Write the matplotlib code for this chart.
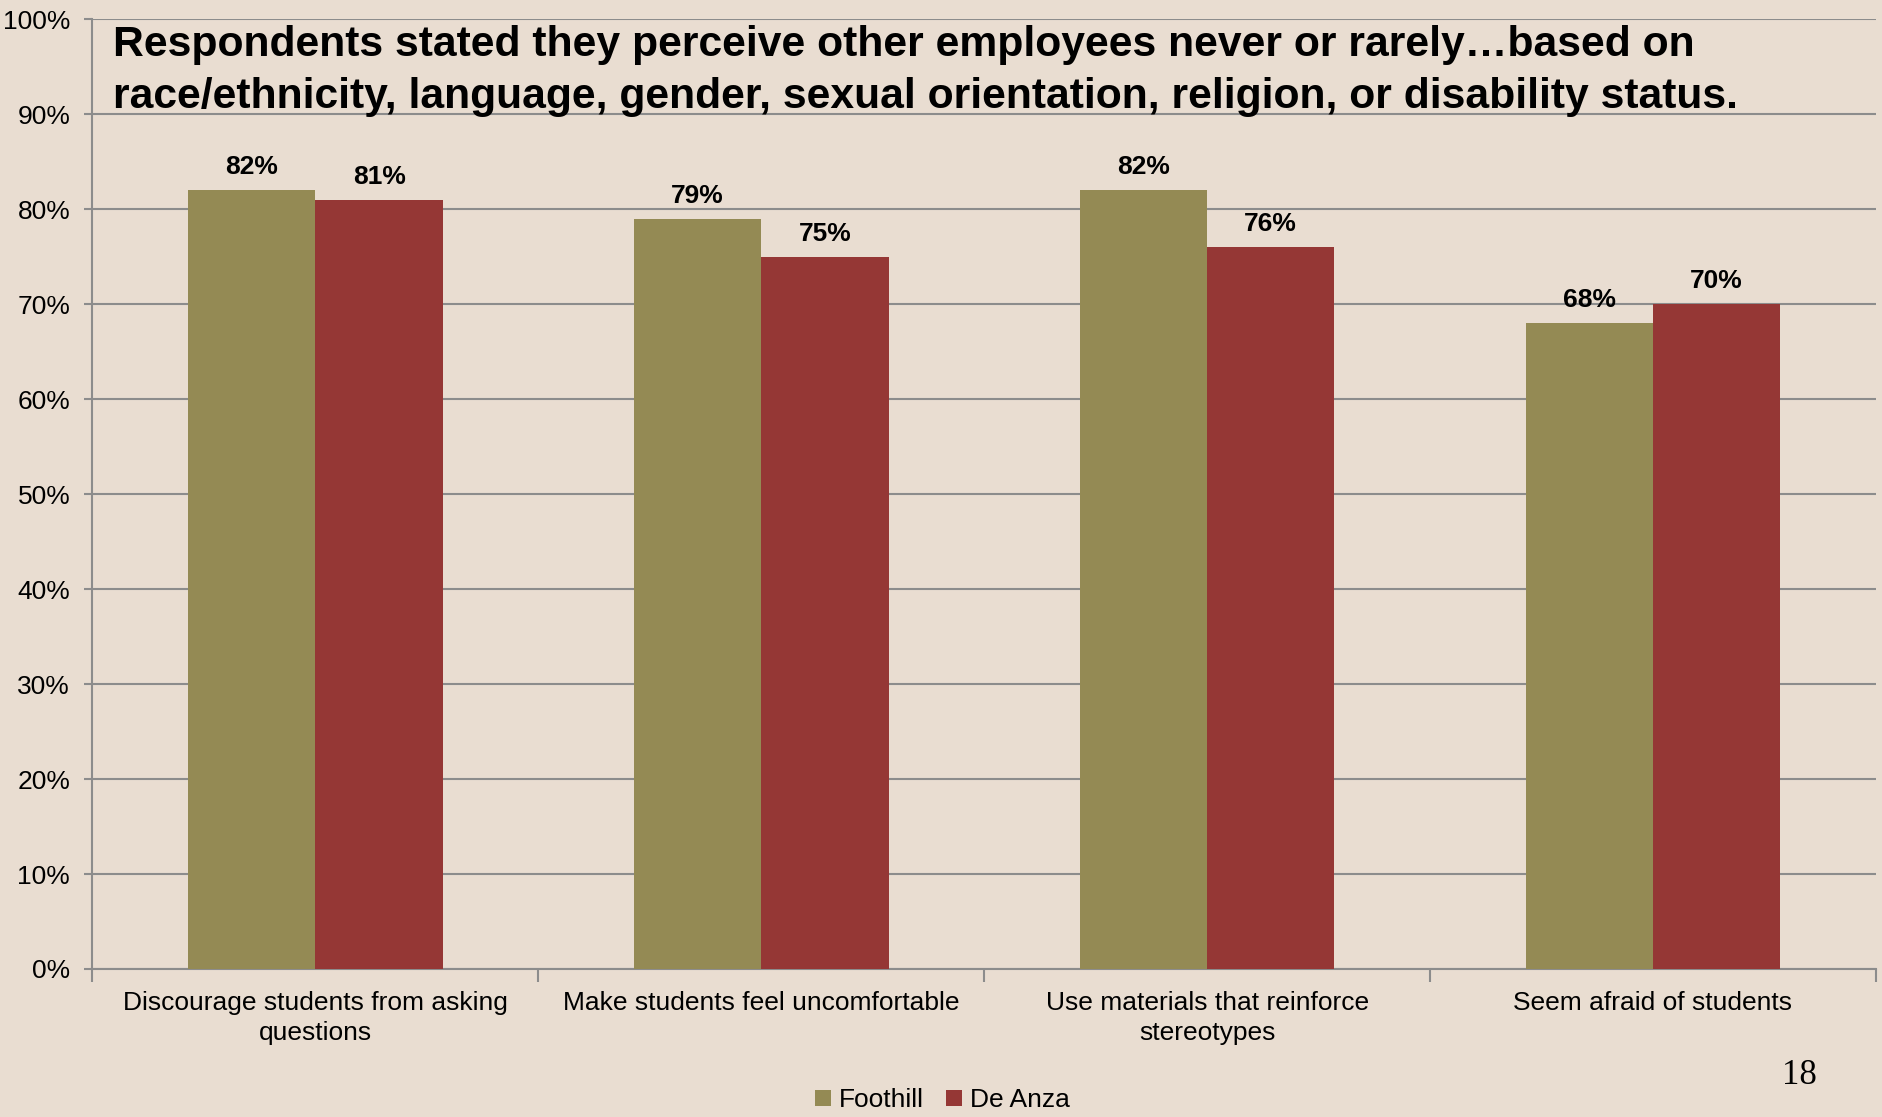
import matplotlib
matplotlib.use("Agg")
import matplotlib.pyplot as plt
import numpy as np
from matplotlib.ticker import FixedLocator, NullFormatter, FuncFormatter, MultipleLocator

categories = ["Discourage students from asking\nquestions",
              "Make students feel uncomfortable",
              "Use materials that reinforce\nstereotypes",
              "Seem afraid of students"]
series_names = ["Foothill", "De Anza"]
foothill = [82, 79, 82, 68]
de_anza = [81, 75, 76, 70]
title = ("Respondents stated they perceive other employees never or rarely\u2026based on\n"
         "race/ethnicity, language, gender, sexual orientation, religion, or disability status.")
page_number = "18"

bg = "#E9DDD1"
c_foot = "#948A54"
c_dea = "#953735"
grid_c = "#8C8C8C"

plt.rcParams['font.family'] = ['Liberation Sans', 'DejaVu Sans']

fig = plt.figure(figsize=(18.83, 11.17), dpi=100, facecolor=bg)
ax = fig.add_axes([0.0491, 0.1325, 0.9471, 0.8503])
ax.set_facecolor(bg)

x = np.arange(len(categories))
w = 1 / 3.5
b1 = ax.bar(x - w / 2, foothill, w, color=c_foot, label=series_names[0], zorder=3)
b2 = ax.bar(x + w / 2, de_anza, w, color=c_dea, label=series_names[1], zorder=3)

for bars, vals in ((b1, foothill), (b2, de_anza)):
    for r, v in zip(bars, vals):
        ax.annotate(f"{v}%", (r.get_x() + r.get_width() / 2, v), xytext=(0, 8),
                    textcoords="offset points", ha="center", va="bottom",
                    fontsize=19, fontweight="bold", zorder=4)

ax.set_xlim(-0.5, len(categories) - 0.5)
ax.set_ylim(0, 100)
ax.yaxis.set_major_locator(MultipleLocator(10))
ax.yaxis.set_major_formatter(FuncFormatter(lambda v, p: f"{int(v)}%"))
ax.grid(axis="y", color=grid_c, linewidth=1.5, zorder=0)
ax.set_axisbelow(True)

ax.xaxis.set_major_locator(FixedLocator(np.arange(-0.5, len(categories), 1.0)))
ax.xaxis.set_major_formatter(NullFormatter())
ax.xaxis.set_minor_locator(FixedLocator(x))
ax.set_xticklabels(categories, minor=True)
ax.tick_params(axis="x", which="minor", length=0, pad=16, labelsize=19)
ax.tick_params(axis="x", which="major", length=9, width=1.5, color=grid_c, direction="out")
ax.tick_params(axis="y", length=6, width=1.5, color=grid_c, labelsize=19, pad=10)
for lbl in ax.get_xticklabels(minor=True):
    lbl.set_linespacing(1.28)

for s in ("top", "right"):
    ax.spines[s].set_visible(False)
for s in ("left", "bottom"):
    ax.spines[s].set_color(grid_c)
    ax.spines[s].set_linewidth(1.5)

ax.text(0.0117, 0.994, title, transform=ax.transAxes, ha="left", va="top",
        fontsize=30.7, fontweight="bold", linespacing=1.38, zorder=5)

fig.legend(loc="center", bbox_to_anchor=(0.5005, 0.015), ncol=2, frameon=False,
           fontsize=19, handlelength=0.6, handleheight=0.6, handletextpad=0.3,
           columnspacing=0.85)

fig.text(0.9555, 1 - 1075 / 1117, page_number, family=["Liberation Serif", "DejaVu Serif"],
         fontsize=25, ha="center", va="center")

fig.savefig("out.png", dpi=100, facecolor=bg)
